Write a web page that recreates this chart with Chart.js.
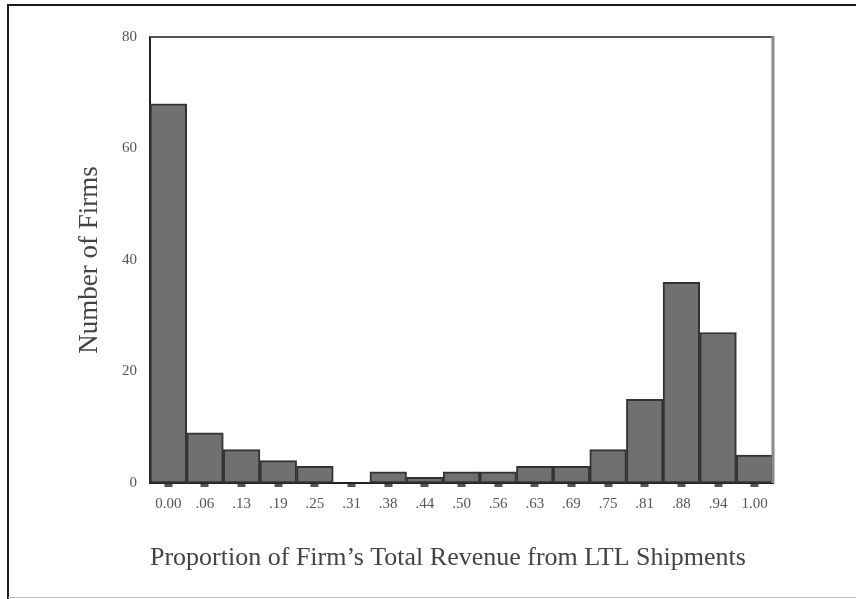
<!DOCTYPE html>
<html>
<head>
<meta charset="utf-8">
<script src="https://cdn.jsdelivr.net/npm/chart.js@4"></script>
<style>
  html, body { margin: 0; padding: 0; background: #fff; }
  #wrap { width: 856px; height: 599px; position: relative; }
</style>
</head>
<body>
<div id="wrap"><canvas id="hist" width="856" height="599"></canvas></div>
<script>
const bins = ['0.00', '.06', '.13', '.19', '.25', '.31', '.38', '.44', '.50', '.56', '.63', '.69', '.75', '.81', '.88', '.94', '1.00'];
const firms = [68, 9, 6, 4, 3, 0, 2, 1, 2, 2, 3, 3, 6, 15, 36, 27, 5];
const yTicks = [0, 20, 40, 60, 80];

const serif = "'Liberation Serif', 'DejaVu Serif', serif";

// outer frame + top/right edges of the plot box
const frame = {
    id: 'frame',
    beforeDraw(chart) {
        let ctx = chart.ctx;
        ctx.save();
        ctx.fillStyle = '#fff';
        ctx.fillRect(0, 0, chart.width, chart.height);
        ctx.strokeStyle = '#1a1a1a';
        ctx.lineWidth = 2;
        ctx.beginPath();
        ctx.moveTo(8, 599);
        ctx.lineTo(8, 5);
        ctx.lineTo(856, 5);
        ctx.stroke();
        ctx.strokeStyle = '#bbb';
        ctx.lineWidth = 1;
        ctx.beginPath();
        ctx.moveTo(8, 597.5);
        ctx.lineTo(856, 597.5);
        ctx.stroke();
        ctx.restore();
    },
    afterDatasetsDraw(chart) {
        let a = chart.chartArea;
        let ctx = chart.ctx;
        ctx.save();
        ctx.strokeStyle = '#555';
        ctx.lineWidth = 2;
        ctx.beginPath();
        ctx.moveTo(a.left, a.top);
        ctx.lineTo(a.right, a.top);
        ctx.stroke();
        ctx.strokeStyle = '#8a8a8a';
        ctx.lineWidth = 3;
        ctx.beginPath();
        ctx.moveTo(a.right, a.top - 1);
        ctx.lineTo(a.right, a.bottom);
        ctx.stroke();
        ctx.restore();
    }
};

new Chart(document.getElementById('hist'), {
    type: 'bar',
    data: {
        labels: bins,
        datasets: [{
            data: firms,
            backgroundColor: '#707073',
            borderColor: '#333',
            borderWidth: 2,
            borderSkipped: false,
            categoryPercentage: 1,
            barPercentage: 1
        }]
    },
    options: {
        responsive: false,
        animation: false,
        layout: { padding: { top: 37, right: 83, left: 0, bottom: 0 } },
        plugins: { legend: { display: false }, tooltip: { enabled: false } },
        scales: {
            x: {
                afterFit: (s) => { s.height = 116; },
                grid: { display: true, drawOnChartArea: false, offset: false, tickLength: 4, tickWidth: 8, tickColor: '#555' },
                border: { color: '#222', width: 2 },
                ticks: { color: '#555', font: { family: serif, size: 15 }, padding: 8, maxRotation: 0, autoSkip: false },
                title: { display: true, align: 'start', text: 'Proportion of Firm\u2019s Total Revenue from LTL Shipments', color: '#444', font: { family: serif, size: 26 }, padding: { bottom: 25 } }
            },
            y: {
                min: 0,
                max: 80,
                afterFit: (s) => { s.width = 150; },
                afterBuildTicks: (s) => { s.ticks = yTicks.map(v => ({ value: v })); },
                grid: { display: false, drawTicks: false },
                border: { color: '#222', width: 2 },
                ticks: { color: '#555', font: { family: serif, size: 15 }, padding: 13 },
                title: { display: true, text: 'Number of Firms', color: '#444', font: { family: serif, size: 27 }, padding: { top: 74 } }
            }
        }
    },
    plugins: [frame]
});
</script>
</body>
</html>
